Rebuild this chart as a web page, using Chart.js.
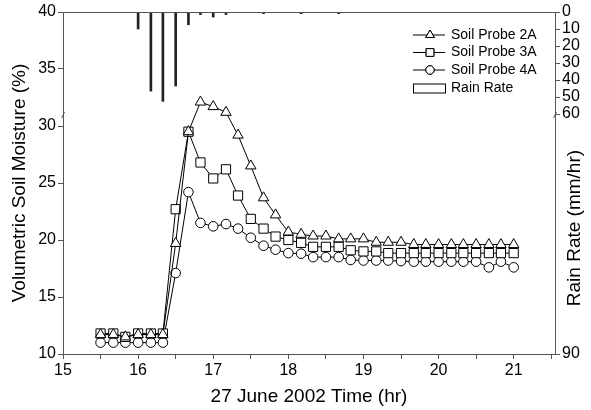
<!DOCTYPE html>
<html>
<head>
<meta charset="utf-8">
<script src="https://cdn.jsdelivr.net/npm/chart.js@4"></script>
<style>
  html, body { margin: 0; padding: 0; background: #fff; }
</style>
</head>
<body>
<canvas id="soilChart" width="591" height="410"></canvas>
<script>
// Hora do dia (hr) - uma leitura a cada 10 minutos
const times = [15.5, 15.67, 15.83, 16, 16.17, 16.33, 16.5, 16.67, 16.83, 17,
               17.17, 17.33, 17.5, 17.67, 17.83, 18, 18.17, 18.33, 18.5, 18.67,
               18.83, 19, 19.17, 19.33, 19.5, 19.67, 19.83, 20, 20.17, 20.33,
               20.5, 20.67, 20.83, 21];

const probe2A = [11.7, 11.7, 11.5, 11.7, 11.7, 11.7, 19.7, 29.5, 32.1, 31.7,
                 31.2, 29.2, 26.5, 23.7, 22.2, 20.7, 20.5, 20.35, 20.35, 20.1,
                 20.1, 20.1, 19.8, 19.8, 19.8, 19.6, 19.6, 19.6, 19.6, 19.6,
                 19.6, 19.6, 19.6, 19.6];

const probe3A = [11.8, 11.8, 11.5, 11.8, 11.8, 11.8, 22.7, 29.5, 26.8, 25.4,
                 26.2, 23.9, 21.85, 21.0, 20.3, 20.0, 19.75, 19.4, 19.4, 19.4,
                 19.1, 19.0, 19.0, 18.85, 18.85, 18.85, 18.85, 18.85, 18.85, 18.85,
                 18.85, 18.85, 18.85, 18.85];

const probe4A = [11.0, 11.0, 11.0, 11.0, 11.0, 11.0, 17.1, 24.2, 21.5, 21.2,
                 21.4, 21.0, 20.2, 19.5, 19.15, 18.85, 18.8, 18.5, 18.5, 18.5,
                 18.25, 18.2, 18.2, 18.2, 18.15, 18.1, 18.1, 18.1, 18.1, 18.1,
                 18.1, 17.6, 18.1, 17.6];

const rainTimes = [16, 16.17, 16.33, 16.5, 16.67, 16.83, 17, 17.17, 17.67, 18.17, 18.67];
const rainRates = [10, 46.5, 52.5, 43.5, 7.5, 1.5, 3, 1.5, 1, 1, 1];

const xTicks = [15, 15.5, 16, 16.5, 17, 17.5, 18, 18.5, 19, 19.5, 20, 20.5, 21, 21.5];
const rainTicks = [0, 10, 20, 30, 40, 50, 60];
const rainAxisMax = 201;     // eixo quebrado: 0-60 no topo, 90 na base
const rainBottomLabel = '90';

const FONT = '"Liberation Sans", Arial, sans-serif';
const AXIS = '#555';

function pts(xs, ys) {
    return xs.map((x, i) => ({ x: x, y: ys[i] }));
}

// radius = marcador no gráfico, legendRadius = marcador na legenda
const probes = [
    { label: 'Soil Probe 2A', data: probe2A, style: 'triangle', radius: 6, legendRadius: 5 },
    { label: 'Soil Probe 3A', data: probe3A, style: 'rect', radius: 6.5, legendRadius: 5.5 },
    { label: 'Soil Probe 4A', data: probe4A, style: 'circle', radius: 4.8, legendRadius: 4.2 }
];

// Moldura superior, marcas de quebra, título do eixo da chuva e legenda
const framePlugin = {
    id: 'frame',
    afterDraw(chart) {
        const ctx = chart.ctx;
        const a = chart.chartArea;
        ctx.save();
        ctx.strokeStyle = AXIS;
        ctx.lineWidth = 1;
        ctx.beginPath();
        ctx.moveTo(a.left, a.top + 0.5);
        ctx.lineTo(a.right, a.top + 0.5);
        ctx.stroke();

        // marcas de quebra dos eixos
        const y60 = chart.scales.y2.getPixelForValue(60);
        const yb = y60 + 1;
        [a.left, a.right].forEach(x => {
            ctx.beginPath();
            ctx.moveTo(x - 1.5, yb + 3);
            ctx.lineTo(x + 1.5, yb - 3);
            ctx.stroke();
        });

        // título do eixo direito (lido de baixo para cima)
        ctx.save();
        ctx.translate(a.right + 20, (y60 + a.bottom) / 2 - 6);
        ctx.rotate(-Math.PI / 2);
        ctx.font = '19px ' + FONT;
        ctx.fillStyle = '#000';
        ctx.textAlign = 'center';
        ctx.textBaseline = 'middle';
        ctx.fillText('Rain Rate (mm/hr)', 0, 0);
        ctx.restore();

        // legenda
        const lx = a.right - 142, ty = a.top + 23, step = 17.5;
        ctx.font = '14px ' + FONT;
        ctx.textBaseline = 'middle';
        ctx.fillStyle = '#000';
        probes.forEach((p, i) => {
            const y = ty + i * step;
            ctx.strokeStyle = '#000';
            ctx.beginPath();
            ctx.moveTo(lx, y);
            ctx.lineTo(lx + 32, y);
            ctx.stroke();
            Chart.helpers.drawPoint(ctx, {
                pointStyle: p.style, radius: p.legendRadius, rotation: 0, borderWidth: 1
            }, lx + 17, y);
            ctx.fillStyle = '#fff';
            ctx.fill();
            ctx.stroke();
            ctx.fillStyle = '#000';
            ctx.fillText(p.label, lx + 38, y);
        });
        const ry = ty + 3 * step + 1;
        ctx.fillStyle = '#fff';
        ctx.fillRect(lx, ry - 4.5, 32, 9);
        ctx.strokeRect(lx + 0.5, ry - 4.5, 32, 9);
        ctx.fillStyle = '#000';
        ctx.fillText('Rain Rate', lx + 38, ry);
        ctx.restore();
    }
};

const datasets = probes.map(p => ({
    type: 'line',
    label: p.label,
    data: pts(times, p.data),
    yAxisID: 'y',
    borderColor: '#000',
    borderWidth: 1,
    backgroundColor: '#fff',
    pointStyle: p.style,
    pointRadius: p.radius,
    pointBorderWidth: 1,
    pointBackgroundColor: '#fff',
    pointBorderColor: '#000',
    tension: 0
}));

datasets.unshift({
    type: 'bar',
    label: 'Rain Rate',
    data: pts(rainTimes, rainRates),
    yAxisID: 'y2',
    backgroundColor: '#222',
    borderWidth: 0,
    barThickness: 2
});

new Chart(document.getElementById('soilChart'), {
    type: 'line',
    data: { datasets: datasets },
    options: {
        responsive: false,
        devicePixelRatio: 1,
        animation: false,
        layout: { padding: { top: 12, left: 0, right: 0, bottom: 0 } },
        plugins: { legend: { display: false }, tooltip: { enabled: false } },
        scales: {
            x: {
                type: 'linear',
                offset: false,
                min: 15,
                max: 21.55,
                afterBuildTicks: axis => { axis.ticks = xTicks.map(v => ({ value: v })); },
                afterFit: scale => { scale.height = 56; },
                ticks: {
                    color: '#000',
                    font: { family: FONT, size: 16 },
                    padding: 2,
                    maxRotation: 0,
                    autoSkip: false,
                    callback: v => Number.isInteger(v) ? String(v) : ''
                },
                grid: { drawOnChartArea: false, tickLength: 5, color: AXIS, offset: false },
                border: { color: AXIS },
                title: {
                    display: true,
                    text: '27 June 2002 Time (hr)',
                    color: '#000',
                    font: { family: FONT, size: 19 },
                    padding: { top: 0, bottom: 2 }
                }
            },
            y: {
                position: 'left',
                min: 10,
                max: 40,
                afterFit: scale => { scale.width = 63; },
                ticks: { stepSize: 5, color: '#000', font: { family: FONT, size: 16 }, padding: 2 },
                grid: { drawOnChartArea: false, tickLength: 5, color: AXIS },
                border: { color: AXIS },
                title: {
                    display: true,
                    text: 'Volumetric Soil Moisture (%)',
                    color: '#000',
                    font: { family: FONT, size: 19 },
                    padding: { top: 8, bottom: 0 }
                }
            },
            y2: {
                position: 'right',
                reverse: true,
                min: 0,
                max: rainAxisMax,
                afterBuildTicks: axis => {
                    axis.ticks = rainTicks.concat([rainAxisMax]).map(v => ({ value: v }));
                },
                afterFit: scale => { scale.width = 36; },
                ticks: {
                    color: '#000',
                    font: { family: FONT, size: 16 },
                    padding: 2,
                    autoSkip: false,
                    callback: v => v === rainAxisMax ? rainBottomLabel : String(v)
                },
                grid: { drawOnChartArea: false, tickLength: 5, color: AXIS },
                border: { color: AXIS }
            }
        }
    },
    plugins: [framePlugin]
});
</script>
</body>
</html>
